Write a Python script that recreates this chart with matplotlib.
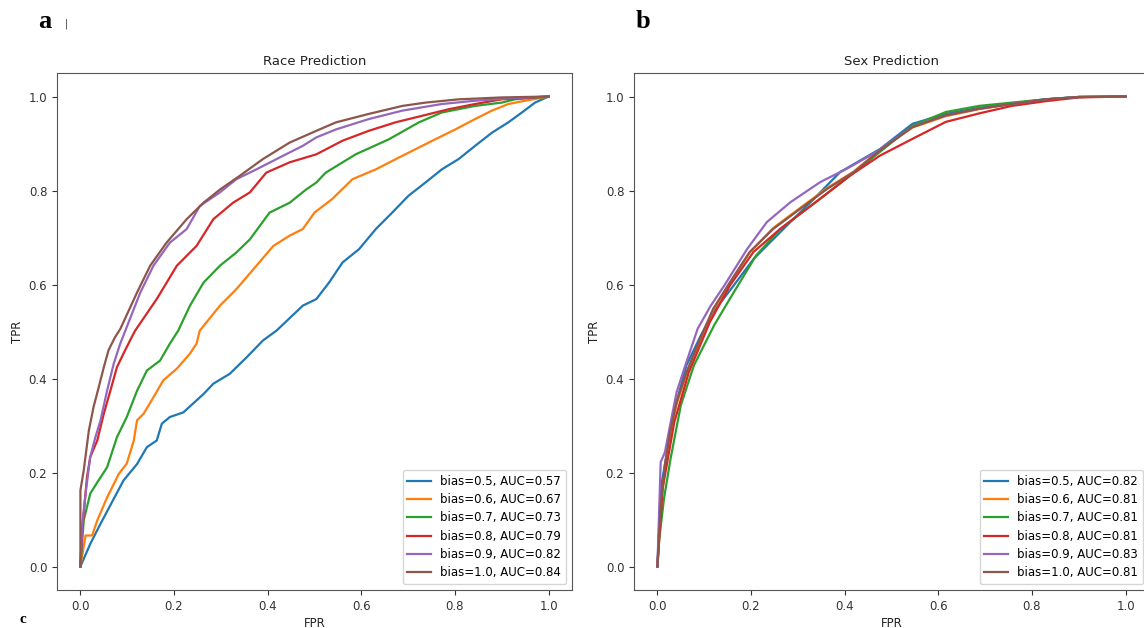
import matplotlib
matplotlib.use("Agg")
import matplotlib.pyplot as plt

# ---------------- data ----------------
race_labels = ["bias=0.5, AUC=0.57", "bias=0.6, AUC=0.67", "bias=0.7, AUC=0.73",
               "bias=0.8, AUC=0.79", "bias=0.9, AUC=0.82", "bias=1.0, AUC=0.84"]
sex_labels = ["bias=0.5, AUC=0.82", "bias=0.6, AUC=0.81", "bias=0.7, AUC=0.81",
              "bias=0.8, AUC=0.81", "bias=0.9, AUC=0.83", "bias=1.0, AUC=0.81"]

# Race prediction ROC curves
race_fpr_05 = [0.0, 0.021, 0.043, 0.092, 0.121, 0.142, 0.163, 0.174, 0.191, 0.22, 0.263, 0.284, 0.319,
               0.355, 0.39, 0.419, 0.475, 0.504, 0.531, 0.56, 0.595, 0.631, 0.666, 0.701, 0.737, 0.772,
               0.808, 0.843, 0.879, 0.914, 0.943, 0.971, 1.0]
race_tpr_05 = [0.0, 0.048, 0.091, 0.183, 0.218, 0.254, 0.268, 0.304, 0.318, 0.328, 0.367, 0.389, 0.41,
               0.445, 0.481, 0.502, 0.555, 0.569, 0.604, 0.647, 0.675, 0.718, 0.753, 0.789, 0.817, 0.845,
               0.867, 0.895, 0.923, 0.945, 0.966, 0.987, 1.0]

race_fpr_06 = [0.0, 0.011, 0.025, 0.036, 0.057, 0.082, 0.099, 0.114, 0.121, 0.135, 0.156, 0.177, 0.206,
               0.234, 0.248, 0.255, 0.298, 0.333, 0.376, 0.412, 0.447, 0.475, 0.5, 0.538, 0.581, 0.631,
               0.68, 0.716, 0.758, 0.801, 0.843, 0.879, 0.914, 0.95, 1.0]
race_tpr_06 = [0.0, 0.066, 0.066, 0.098, 0.147, 0.197, 0.219, 0.268, 0.311, 0.325, 0.36, 0.396, 0.421,
               0.453, 0.474, 0.502, 0.555, 0.59, 0.64, 0.682, 0.704, 0.718, 0.753, 0.782, 0.824, 0.845,
               0.87, 0.888, 0.909, 0.93, 0.952, 0.97, 0.984, 0.991, 1.0]

race_fpr_07 = [0.0, 0.007, 0.021, 0.036, 0.057, 0.078, 0.099, 0.121, 0.142, 0.17, 0.191, 0.209, 0.234,
               0.263, 0.298, 0.333, 0.362, 0.404, 0.447, 0.482, 0.504, 0.524, 0.588, 0.659, 0.723, 0.772,
               0.843, 0.9, 0.928, 1.0]
race_tpr_07 = [0.0, 0.098, 0.155, 0.179, 0.211, 0.275, 0.318, 0.374, 0.417, 0.438, 0.474, 0.502, 0.555,
               0.604, 0.64, 0.668, 0.696, 0.753, 0.774, 0.802, 0.817, 0.838, 0.877, 0.909, 0.945, 0.966,
               0.98, 0.987, 0.994, 1.0]

race_fpr_08 = [0.0, 0.004, 0.014, 0.021, 0.036, 0.05, 0.064, 0.078, 0.092, 0.106, 0.117, 0.163, 0.206,
               0.248, 0.284, 0.326, 0.362, 0.397, 0.447, 0.504, 0.56, 0.616, 0.673, 0.73, 0.787, 0.843,
               0.9, 1.0]
race_tpr_08 = [0.0, 0.077, 0.19, 0.233, 0.268, 0.325, 0.374, 0.424, 0.453, 0.481, 0.502, 0.569, 0.64,
               0.682, 0.739, 0.774, 0.796, 0.838, 0.86, 0.877, 0.906, 0.927, 0.945, 0.959, 0.973, 0.984,
               0.994, 1.0]

race_fpr_09 = [0.0, 0.004, 0.011, 0.021, 0.032, 0.043, 0.057, 0.071, 0.085, 0.096, 0.128, 0.156, 0.191,
               0.227, 0.255, 0.298, 0.333, 0.376, 0.433, 0.475, 0.504, 0.546, 0.616, 0.688, 0.772, 0.843,
               0.914, 1.0]
race_tpr_09 = [0.0, 0.091, 0.155, 0.233, 0.275, 0.311, 0.374, 0.431, 0.474, 0.502, 0.583, 0.64, 0.689,
               0.718, 0.767, 0.796, 0.824, 0.845, 0.874, 0.895, 0.913, 0.93, 0.952, 0.97, 0.984, 0.991,
               0.996, 1.0]

race_fpr_10 = [0.0, 0.0, 0.007, 0.018, 0.028, 0.039, 0.05, 0.06, 0.074, 0.085, 0.121, 0.149, 0.184,
               0.227, 0.263, 0.298, 0.34, 0.39, 0.447, 0.504, 0.546, 0.616, 0.688, 0.737, 0.808, 0.9, 1.0]
race_tpr_10 = [0.0, 0.162, 0.204, 0.289, 0.339, 0.381, 0.424, 0.46, 0.488, 0.505, 0.583, 0.64, 0.689,
               0.739, 0.774, 0.802, 0.831, 0.867, 0.902, 0.927, 0.945, 0.963, 0.98, 0.987, 0.994, 0.998, 1.0]

# Sex prediction ROC curves
sex_fpr_05 = [0.0, 0.007, 0.035, 0.062, 0.092, 0.119, 0.163, 0.206, 0.277, 0.334, 0.39, 0.475, 0.545,
              0.616, 0.687, 0.757, 0.829, 0.9, 1.0]
sex_tpr_05 = [0.0, 0.165, 0.328, 0.428, 0.49, 0.541, 0.598, 0.655, 0.726, 0.782, 0.839, 0.888, 0.942,
              0.963, 0.976, 0.985, 0.994, 0.999, 1.0]

sex_fpr_06 = [0.0, 0.007, 0.016, 0.027, 0.041, 0.062, 0.091, 0.119, 0.155, 0.197, 0.247, 0.305, 0.362,
              0.419, 0.475, 0.545, 0.616, 0.687, 0.757, 0.829, 0.9, 1.0]
sex_tpr_06 = [0.0, 0.125, 0.21, 0.282, 0.345, 0.41, 0.48, 0.545, 0.603, 0.668, 0.72, 0.763, 0.805,
              0.84, 0.886, 0.934, 0.958, 0.973, 0.984, 0.993, 0.999, 1.0]

sex_fpr_07 = [0.0, 0.004, 0.014, 0.028, 0.05, 0.078, 0.121, 0.155, 0.211, 0.262, 0.347, 0.412, 0.475,
              0.545, 0.616, 0.687, 0.757, 0.829, 0.9, 1.0]
sex_tpr_07 = [0.0, 0.059, 0.144, 0.229, 0.343, 0.428, 0.513, 0.57, 0.662, 0.718, 0.782, 0.832, 0.882,
              0.938, 0.967, 0.98, 0.987, 0.994, 0.999, 1.0]

sex_fpr_08 = [0.0, 0.011, 0.036, 0.067, 0.112, 0.155, 0.205, 0.262, 0.347, 0.412, 0.475, 0.545, 0.616,
              0.687, 0.757, 0.829, 0.9, 1.0]
sex_tpr_08 = [0.0, 0.165, 0.307, 0.413, 0.52, 0.598, 0.669, 0.718, 0.782, 0.832, 0.874, 0.91, 0.946,
              0.964, 0.98, 0.99, 0.998, 1.0]

sex_fpr_09 = [0.0, 0.007, 0.016, 0.027, 0.041, 0.062, 0.086, 0.114, 0.143, 0.192, 0.234, 0.284, 0.348,
              0.404, 0.468, 0.545, 0.616, 0.687, 0.757, 0.829, 0.9, 1.0]
sex_tpr_09 = [0.0, 0.222, 0.243, 0.3, 0.371, 0.435, 0.506, 0.555, 0.598, 0.676, 0.733, 0.775, 0.818,
              0.846, 0.882, 0.936, 0.96, 0.974, 0.984, 0.994, 0.999, 1.0]

sex_fpr_10 = [0.0, 0.007, 0.016, 0.027, 0.041, 0.062, 0.091, 0.119, 0.155, 0.197, 0.247, 0.305, 0.362,
              0.419, 0.475, 0.545, 0.616, 0.687, 0.757, 0.829, 0.9, 1.0]
sex_tpr_10 = [0.0, 0.129, 0.215, 0.286, 0.35, 0.413, 0.484, 0.548, 0.605, 0.669, 0.718, 0.761, 0.803,
              0.839, 0.885, 0.935, 0.96, 0.974, 0.984, 0.994, 0.999, 1.0]

race_fpr = [race_fpr_05, race_fpr_06, race_fpr_07, race_fpr_08, race_fpr_09, race_fpr_10]
race_tpr = [race_tpr_05, race_tpr_06, race_tpr_07, race_tpr_08, race_tpr_09, race_tpr_10]
sex_fpr = [sex_fpr_05, sex_fpr_06, sex_fpr_07, sex_fpr_08, sex_fpr_09, sex_fpr_10]
sex_tpr = [sex_tpr_05, sex_tpr_06, sex_tpr_07, sex_tpr_08, sex_tpr_09, sex_tpr_10]

colors = ["#1f77b4", "#ff7f0e", "#2ca02c", "#d62728", "#9467bd", "#8c564b"]

# ---------------- figure ----------------
fig = plt.figure(figsize=(11.44, 6.28), dpi=100)
ax_race = fig.add_axes([57 / 1144, 38 / 628, 515 / 1144, 517 / 628])
ax_sex = fig.add_axes([634 / 1144, 38 / 628, 515 / 1144, 517 / 628])

panels = [
    (ax_race, race_fpr, race_tpr, race_labels, "Race Prediction"),
    (ax_sex, sex_fpr, sex_tpr, sex_labels, "Sex Prediction"),
]
for ax, fprs, tprs, labels, title in panels:
    for fpr, tpr, lab, c in zip(fprs, tprs, labels, colors):
        ax.plot(fpr, tpr, color=c, lw=1.6, label=lab)
    ax.set_xlim(-0.05, 1.05)
    ax.set_ylim(-0.05, 1.05)
    ax.set_xticks([0.0, 0.2, 0.4, 0.6, 0.8, 1.0])
    ax.set_yticks([0.0, 0.2, 0.4, 0.6, 0.8, 1.0])
    ax.tick_params(labelsize=8.5, colors="#333333", length=3.5)
    for s in ax.spines.values():
        s.set_color("#555555")
    ax.set_title(title, fontsize=9.5, color="#222222", pad=6)
    ax.set_xlabel("FPR", fontsize=8.5, color="#222222", labelpad=3)
    ax.set_ylabel("TPR", fontsize=8.5, color="#222222", labelpad=3)
    ax.legend(loc="lower right", fontsize=8.5, handlelength=2.0, borderaxespad=0.5,
              labelspacing=0.45, framealpha=0.8, edgecolor="#cccccc")

# panel letters
letter_font = ["Liberation Serif", "DejaVu Serif"]
fig.text(38 / 1144, 1 - 22 / 628, "a", family=letter_font, fontweight="bold",
         fontsize=19, va="center", ha="left")
fig.text(65 / 1144, 1 - 24 / 628, "|", fontsize=7, va="center", ha="left", color="#333333")
fig.text(636 / 1144, 1 - 22 / 628, "b", family=letter_font, fontweight="bold",
         fontsize=19, va="center", ha="left")
fig.text(20 / 1144, 2 / 628, "c", family=letter_font, fontweight="bold",
         fontsize=11, va="bottom", ha="left")

fig.savefig("out.png", dpi=100)
